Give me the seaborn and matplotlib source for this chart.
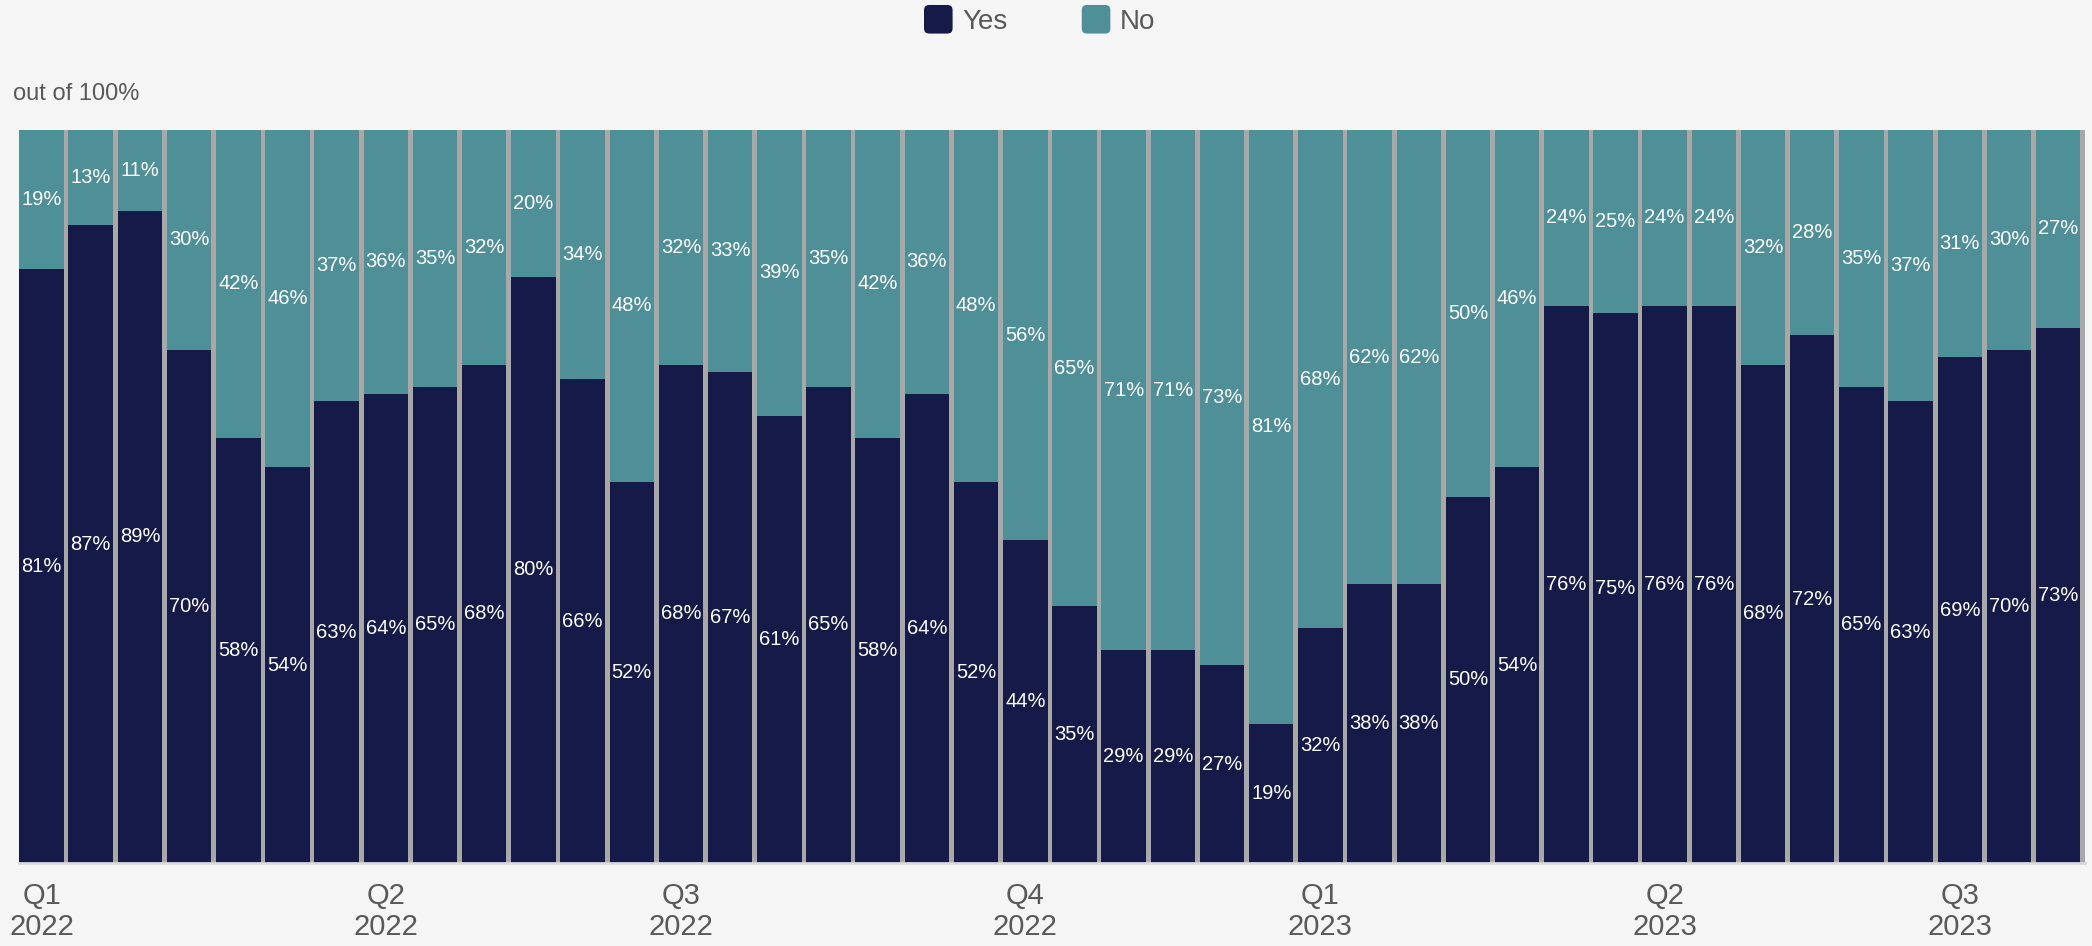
import matplotlib
matplotlib.use("Agg")
import matplotlib.pyplot as plt
from matplotlib.patches import Patch, FancyBboxPatch
from matplotlib.legend_handler import HandlerPatch
import seaborn as sns
import pandas as pd

# Share of answers per bi-weekly survey wave
yes_pct = [81, 87, 89, 70, 58, 54, 63, 64, 65, 68, 80, 66, 52, 68, 67, 61, 65, 58, 64, 52, 44,
           35, 29, 29, 27, 19, 32, 38, 38, 50, 54, 76, 75, 76, 76, 68, 72, 65, 63, 69, 70, 73]
no_pct = [19, 13, 11, 30, 42, 46, 37, 36, 35, 32, 20, 34, 48, 32, 33, 39, 35, 42, 36, 48, 56,
          65, 71, 71, 73, 81, 68, 62, 62, 50, 46, 24, 25, 24, 24, 32, 28, 35, 37, 31, 30, 27]
waves = [f"W{i + 1:02d}" for i in range(len(yes_pct))]

# Quarter markers on the time axis
quarter_waves = ["W01", "W08", "W14", "W21", "W27", "W34", "W40"]
quarter_labels = ["Q1\n2022", "Q2\n2022", "Q3\n2022", "Q4\n2022",
                  "Q1\n2023", "Q2\n2023", "Q3\n2023"]

YES_COLOR = "#151a48"
NO_COLOR = "#4f8f98"
BG = "#f5f5f5"
GAP = "#a8a8a8"
TEXT = "#595959"


class RoundedSquare(HandlerPatch):
    """Legend key drawn as a square with rounded corners."""

    def create_artists(self, legend, orig_handle, xdescent, ydescent, width, height,
                       fontsize, trans):
        side = min(width, height) * 1.15
        x0 = -xdescent + (width - side) / 2
        y0 = -ydescent + (height - side) / 2
        p = FancyBboxPatch((x0, y0), side, side,
                           boxstyle=f"round,pad=0,rounding_size={side * 0.18}",
                           facecolor=orig_handle.get_facecolor(), edgecolor="none",
                           transform=trans)
        return [p]


df = pd.DataFrame({"wave": waves, "yes": yes_pct, "no": no_pct})
df["total"] = df["yes"] + df["no"]

sns.set_theme(style="white")
plt.rcParams["font.family"] = ["Liberation Sans", "DejaVu Sans"]

fig = plt.figure(figsize=(20.92, 9.46), dpi=100, facecolor=BG)
ax = fig.add_axes([0.00923, 0.0877, 0.98747, 0.7749])
ax.set_facecolor(GAP)

bar_w = 0.905
sns.barplot(data=df, x="wave", y="total", order=waves, color=NO_COLOR, saturation=1,
            width=bar_w, linewidth=0, ax=ax)
sns.barplot(data=df, x="wave", y="yes", order=waves, color=YES_COLOR, saturation=1,
            width=bar_w, linewidth=0, ax=ax)

# Value labels centred in each segment
for i, row in df.iterrows():
    ax.text(i, row["yes"] / 2, f"{row['yes']}%", ha="center", va="center",
            color="white", fontsize=14.5)
    ax.text(i, row["yes"] + row["no"] / 2, f"{row['no']}%", ha="center", va="center",
            color="white", fontsize=14.5)

ax.set_xlim(-bar_w / 2, len(waves) - bar_w / 2)
ax.set_ylim(0, 100)
ax.set_yticks([])
ax.set_xlabel("")
ax.set_ylabel("")
ax.set_xticks([waves.index(w) for w in quarter_waves])
ax.set_xticklabels(quarter_labels, fontsize=21, color=TEXT, linespacing=1.1)
ax.tick_params(axis="x", length=0, pad=14)
for side in ["top", "left", "right"]:
    ax.spines[side].set_visible(False)
ax.spines["bottom"].set_color("#d9d9d9")
ax.spines["bottom"].set_linewidth(2)

fig.text(13 / 2092, 1 - 100 / 946, "out of 100%", fontsize=17, color=TEXT,
         ha="left", va="baseline")

handles = [Patch(facecolor=YES_COLOR, edgecolor="none", label="Yes"),
           Patch(facecolor=NO_COLOR, edgecolor="none", label="No")]
leg = fig.legend(handles=handles, loc="center", bbox_to_anchor=(0.497, 0.978), ncol=2,
                 frameon=False, fontsize=20, handlelength=1.0, handleheight=1.0,
                 handletextpad=0.35, columnspacing=2.7, borderaxespad=0,
                 handler_map={Patch: RoundedSquare()})
for t in leg.get_texts():
    t.set_color(TEXT)

fig.savefig("out.png", dpi=100, facecolor=BG)
